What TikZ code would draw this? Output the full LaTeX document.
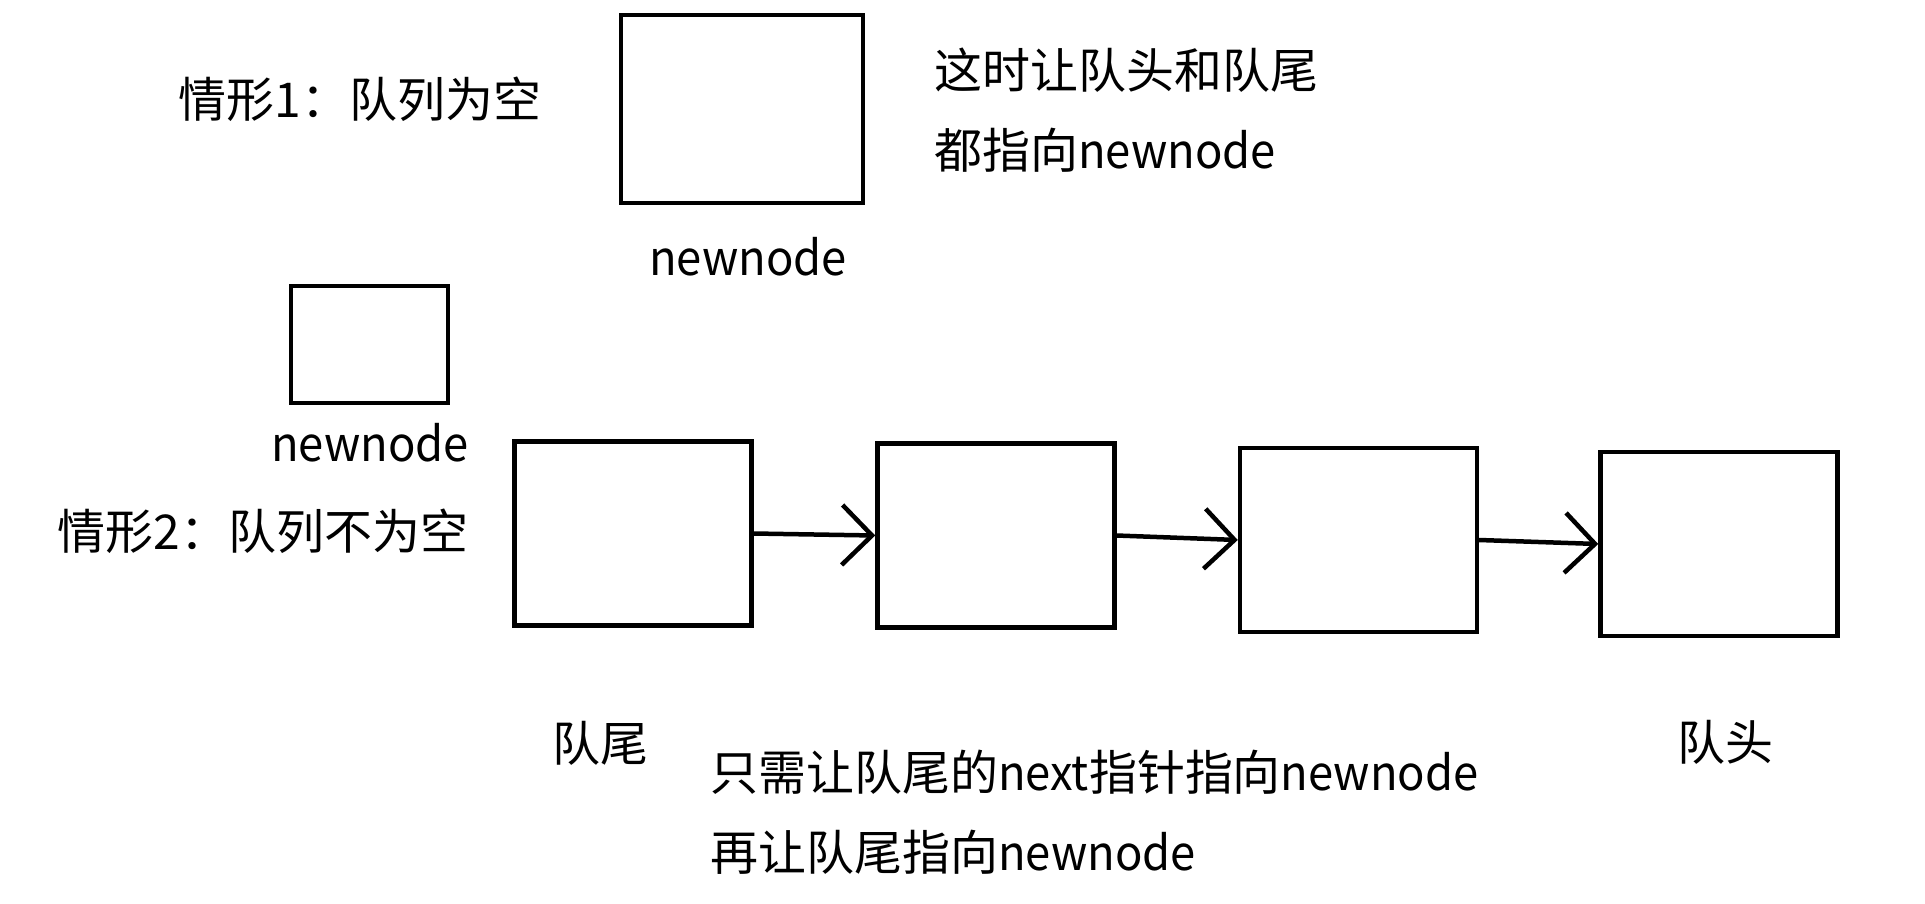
\documentclass[tikz,border=0pt]{standalone}
\usepackage{fontspec}
\setmainfont{Noto Sans CJK SC}
\newfontfamily\latin[FakeStretch=0.945]{Noto Sans CJK SC}
\usetikzlibrary{arrows.meta}

\begin{document}
\begin{tikzpicture}[line cap=round,line join=miter,x=1.0cm,y=1.0cm,
  qnode/.style={draw,line width=0.09cm,line cap=butt,inner sep=0pt,minimum width=4.74cm,minimum height=3.68cm},
  txt/.style={inner sep=0pt,font=\fontsize{27.3pt}{45.5pt}\selectfont},
  link/.style={line width=0.09cm,-{Straight Barb[length=0.6cm,width=1.2cm]}}]
\useasboundingbox (0.,0.) rectangle (38.5,-18.06);
%case 1: empty queue
\node[txt] (case1) at (7.2,-1.99) {情形1：队列为空};
\node[qnode,minimum width=4.84cm,minimum height=3.76cm] (only) at (14.84,-2.18) {};
\node[txt] (onlylabel) at (14.96,-5.14) {\latin newnode};
\node[txt,align=left,anchor=west] (note1) at (18.68,-2.2) {这时让队头和队尾\\都指向{\latin newnode}};
%case 2: queue not empty
\node[qnode,minimum width=3.14cm,minimum height=2.34cm] (new) at (7.39,-6.89) {};
\node[txt] (newlabel) at (7.4,-8.86) {\latin newnode};
\node[txt] (case2) at (5.26,-10.62) {情形2：队列不为空};
\node[qnode] (q1) at (12.66,-10.67) {};
\node[qnode] (q2) at (19.92,-10.71) {};
\node[qnode] (q3) at (27.17,-10.80) {};
\node[qnode] (q4) at (34.38,-10.88) {};
\draw [link] (q1.east) -- (q2.west);
\draw [link] (q2.east) -- (q3.west);
\draw [link] (q3.east) -- (q4.west);
\node[txt] (tail) at (12.0,-14.86) {队尾};
\node[txt] (head) at (34.5,-14.84) {队头};
\node[txt,align=left,anchor=west] (note2) at (14.2,-16.24) {只需让队尾的{\latin next}指针指向{\latin newnode}\\[0.1pt]再让队尾指向{\latin newnode}};
\end{tikzpicture}
\end{document}
